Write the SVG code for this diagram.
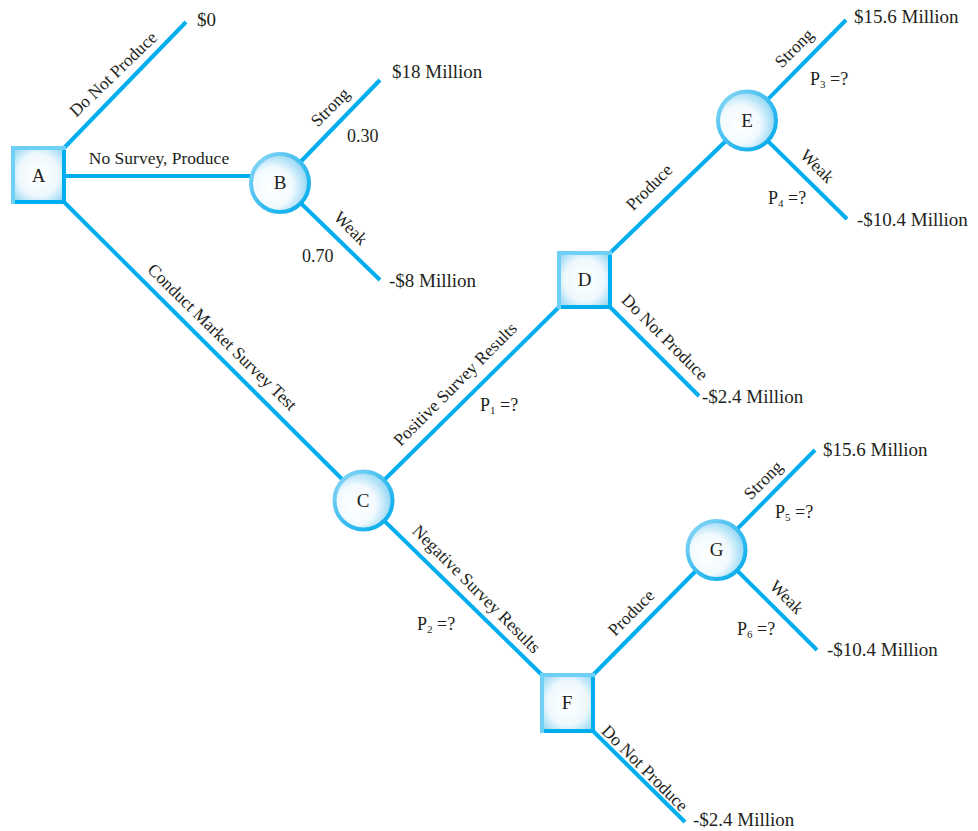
<svg xmlns="http://www.w3.org/2000/svg" width="978" height="831" viewBox="0 0 978 831">
<style>
.ln{stroke:#00aeef;stroke-width:4;fill:none;stroke-linecap:butt}
.t{font-family:"Liberation Serif","Times New Roman",serif;fill:#231f20}
.val{font-size:19px}
.nd{font-size:19px;text-anchor:middle;dominant-baseline:central}
.rl{font-size:17.5px;text-anchor:middle;dominant-baseline:central}
.pr{font-size:18px}
.sub{font-size:11px}
.sq{fill:url(#sqFill);stroke:#00aeef;stroke-width:4}
.sqhi{fill:none;stroke:#6fd0f5;stroke-width:4;stroke-linecap:square}
.ci{fill:url(#ciFill);stroke:url(#ciStroke);stroke-width:4}
</style>
<defs>
<radialGradient id="sqFill" cx="0.5" cy="0.5" r="0.72">
<stop offset="0" stop-color="#ffffff"/>
<stop offset="0.55" stop-color="#eef8fd"/>
<stop offset="1" stop-color="#7fcff1"/>
</radialGradient>
<radialGradient id="ciFill" cx="0.4" cy="0.55" fx="0.35" fy="0.6" r="0.62">
<stop offset="0" stop-color="#ffffff"/>
<stop offset="0.55" stop-color="#f2fafe"/>
<stop offset="1" stop-color="#86d2f3"/>
</radialGradient>
<linearGradient id="ciStroke" x1="0" y1="0" x2="1" y2="1">
<stop offset="0" stop-color="#8fd8f6"/>
<stop offset="0.5" stop-color="#3fbef0"/>
<stop offset="1" stop-color="#00aaeb"/>
</linearGradient>
</defs>
<rect width="978" height="831" fill="#ffffff"/>

<g id="connectors">
<line class="ln" x1="64" y1="148" x2="186" y2="22"/>
<line class="ln" x1="64" y1="176" x2="260" y2="176"/>
<line class="ln" x1="64" y1="202" x2="363.5" y2="500.5"/>
<line class="ln" x1="280" y1="183" x2="380" y2="80"/>
<line class="ln" x1="280" y1="183" x2="380" y2="280"/>
<line class="ln" x1="363.5" y1="500.5" x2="559" y2="307"/>
<line class="ln" x1="363.5" y1="500.5" x2="542" y2="675"/>
<line class="ln" x1="610" y1="253" x2="747" y2="120.5"/>
<line class="ln" x1="610" y1="307" x2="699" y2="396"/>
<line class="ln" x1="747" y1="120.5" x2="846" y2="20"/>
<line class="ln" x1="747" y1="120.5" x2="847" y2="219"/>
<line class="ln" x1="593" y1="675" x2="716.5" y2="550"/>
<line class="ln" x1="593" y1="731" x2="685" y2="822"/>
<line class="ln" x1="716.5" y1="550" x2="815" y2="450"/>
<line class="ln" x1="716.5" y1="550" x2="817" y2="650"/>
</g>

<g id="node-A">
<rect class="sq" x="13" y="148" width="51" height="54"/>
<polyline class="sqhi" points="13,202 13,148 64,148"/>
<text class="t nd" x="38.5" y="175">A</text>
</g>
<g id="node-B">
<circle class="ci" cx="280" cy="183" r="29"/>
<text class="t nd" x="280" y="182">B</text>
</g>
<g id="node-C">
<circle class="ci" cx="363.5" cy="500.5" r="29"/>
<text class="t nd" x="363" y="500">C</text>
</g>
<g id="node-D">
<rect class="sq" x="559" y="253" width="51" height="54"/>
<polyline class="sqhi" points="559,307 559,253 610,253"/>
<text class="t nd" x="584.5" y="279">D</text>
</g>
<g id="node-E">
<circle class="ci" cx="747" cy="120.5" r="29"/>
<text class="t nd" x="747" y="120">E</text>
</g>
<g id="node-F">
<rect class="sq" x="542" y="675" width="51" height="56"/>
<polyline class="sqhi" points="542,731 542,675 593,675"/>
<text class="t nd" x="567" y="702">F</text>
</g>
<g id="node-G">
<circle class="ci" cx="716.5" cy="550" r="29"/>
<text class="t nd" x="716.5" y="549">G</text>
</g>

<g id="branch-labels">
<text class="t rl" x="113" y="74" transform="rotate(-44 113 74)">Do Not Produce</text>
<text class="t rl" x="159" y="158">No Survey, Produce</text>
<text class="t rl" x="330" y="107" transform="rotate(-45 330 107)">Strong</text>
<text class="t rl" x="351" y="228" transform="rotate(45 351 228)">Weak</text>
<text class="t rl" x="222.5" y="337" transform="rotate(44.5 222.5 337)">Conduct Market Survey Test</text>
<text class="t rl" x="455" y="384" transform="rotate(-45 455 384)">Positive Survey Results</text>
<text class="t rl" x="649" y="187" transform="rotate(-45 649 187)">Produce</text>
<text class="t rl" x="665" y="337" transform="rotate(45 665 337)">Do Not Produce</text>
<text class="t rl" x="794" y="48" transform="rotate(-45 794 48)">Strong</text>
<text class="t rl" x="817.5" y="166" transform="rotate(45 817.5 166)">Weak</text>
<text class="t rl" x="476.7" y="589" transform="rotate(45 476.7 589)">Negative Survey Results</text>
<text class="t rl" x="631" y="612.5" transform="rotate(-45 631 612.5)">Produce</text>
<text class="t rl" x="763" y="480" transform="rotate(-45 763 480)">Strong</text>
<text class="t rl" x="787" y="597" transform="rotate(45 787 597)">Weak</text>
<text class="t rl" x="645" y="768" transform="rotate(45 645 768)">Do Not Produce</text>
</g>

<g id="probabilities">
<text class="t val" x="347" y="141.5" style="font-size:18px">0.30</text>
<text class="t val" x="302" y="261.5" style="font-size:18px">0.70</text>
<text class="t pr" x="480" y="411">P<tspan class="sub" dy="3">1</tspan><tspan dy="-3"> =?</tspan></text>
<text class="t pr" x="417" y="630">P<tspan class="sub" dy="3">2</tspan><tspan dy="-3"> =?</tspan></text>
<text class="t pr" x="810" y="85">P<tspan class="sub" dy="3">3</tspan><tspan dy="-3"> =?</tspan></text>
<text class="t pr" x="768" y="204">P<tspan class="sub" dy="3">4</tspan><tspan dy="-3"> =?</tspan></text>
<text class="t pr" x="775" y="518">P<tspan class="sub" dy="3">5</tspan><tspan dy="-3"> =?</tspan></text>
<text class="t pr" x="737" y="635">P<tspan class="sub" dy="3">6</tspan><tspan dy="-3"> =?</tspan></text>
</g>

<g id="payoffs">
<text class="t val" x="197" y="26">$0</text>
<text class="t val" x="392" y="78">$18 Million</text>
<text class="t val" x="389" y="286.5">-$8 Million</text>
<text class="t val" x="854" y="23">$15.6 Million</text>
<text class="t val" x="857" y="226">-$10.4 Million</text>
<text class="t val" x="702" y="403">-$2.4 Million</text>
<text class="t val" x="823" y="456">$15.6 Million</text>
<text class="t val" x="827" y="656">-$10.4 Million</text>
<text class="t val" x="693" y="826">-$2.4 Million</text>
</g>
</svg>
